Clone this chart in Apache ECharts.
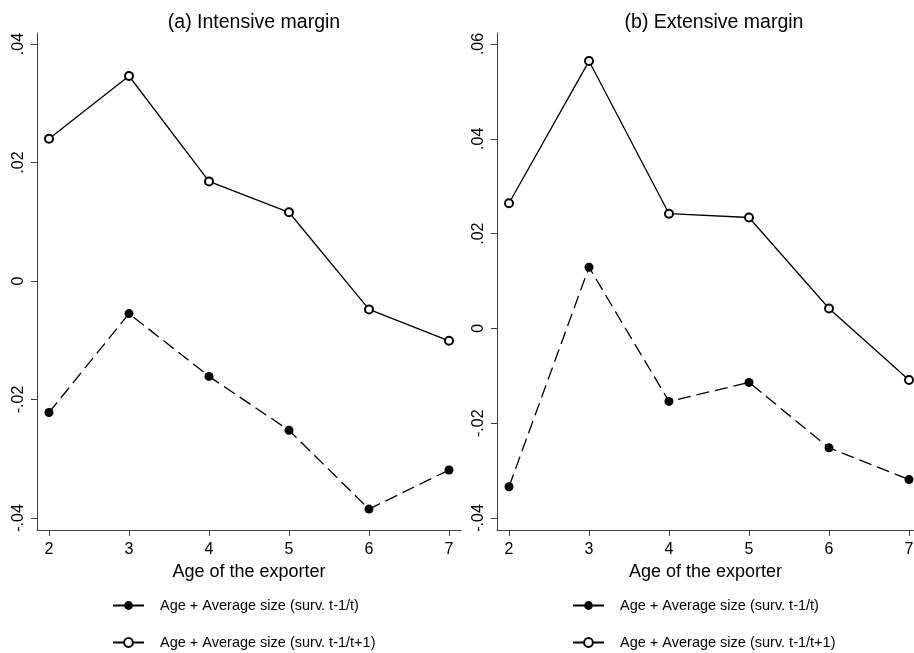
<!DOCTYPE html>
<html>
<head>
<meta charset="utf-8">
<script src="https://cdn.jsdelivr.net/npm/echarts@6/dist/echarts.min.js"></script>
<style>
html,body{margin:0;padding:0;background:#fff;}
#chart{width:914px;height:653px;}
</style>
</head>
<body>
<div id="chart"></div>
<script>
// ---- data ----
var ages = [2, 3, 4, 5, 6, 7];
var xTicks = [2, 3, 4, 5, 6, 7];
var seriesNames = ['Age + Average size (surv. t-1/t)', 'Age + Average size (surv. t-1/t+1)'];
var panelTitles = ['(a) Intensive margin', '(b) Extensive margin'];
var xTitle = 'Age of the exporter';

var intensiveT  = [-0.0222, -0.0055, -0.0161, -0.0252, -0.0385, -0.0319];
var intensiveT1 = [0.0240, 0.0346, 0.0168, 0.0116, -0.0048, -0.0101];
var extensiveT  = [-0.0334, 0.0129, -0.0154, -0.0114, -0.0252, -0.0319];
var extensiveT1 = [0.0264, 0.0564, 0.0242, 0.0234, 0.0042, -0.0109];

var yTicksA = [-0.04, -0.02, 0, 0.02, 0.04];
var yTicksB = [-0.04, -0.02, 0, 0.02, 0.04, 0.06];

function pairs(xs, ys){ return xs.map(function(x,i){ return [x, ys[i]]; }); }
function fmtY(v){
  v = Math.round(v*100)/100;
  if (v === 0) return '0';
  var s = String(Math.abs(v)).replace(/^0/, '');
  return (v < 0 ? '-' : '') + s;
}

var FONT = '"Liberation Sans", Arial, sans-serif';
var AXC = '#404040';

function xAxisDef(idx, mx){
  return {
    type: 'value', gridIndex: idx, min: 1.85, max: mx,
    name: xTitle, nameLocation: 'middle', nameGap: 28,
    nameTextStyle: {fontFamily: FONT, fontSize: 18, color: '#000'},
    axisLine: {show: true, onZero: false, lineStyle: {color: AXC, width: 1}},
    axisTick: {show: true, length: 6, inside: false, customValues: xTicks, lineStyle: {color: AXC}},
    axisLabel: {show: true, customValues: xTicks, margin: 12, fontFamily: FONT, fontSize: 16, color: '#000'},
    splitLine: {show: false}
  };
}
function yAxisDef(idx, mn, mx, ticks){
  return {
    type: 'value', gridIndex: idx, min: mn, max: mx,
    axisLine: {show: true, onZero: false, lineStyle: {color: AXC, width: 1}},
    axisTick: {show: true, length: 6, inside: false, customValues: ticks, lineStyle: {color: AXC}},
    axisLabel: {show: true, customValues: ticks, rotate: 90, margin: 10, formatter: fmtY,
                fontFamily: FONT, fontSize: 16, color: '#000'},
    splitLine: {show: false}
  };
}
function filledSeries(idx, ys){
  return {
    name: seriesNames[0], type: 'line', xAxisIndex: idx, yAxisIndex: idx,
    data: pairs(ages, ys), symbol: 'circle', symbolSize: 9,
    itemStyle: {color: '#000'},
    lineStyle: {color: '#000', width: 1.3, type: [13, 6]},
    animation: false
  };
}
function hollowSeries(idx, ys){
  return {
    name: seriesNames[1], type: 'line', xAxisIndex: idx, yAxisIndex: idx,
    data: pairs(ages, ys), symbol: 'emptyCircle', symbolSize: 8,
    itemStyle: {color: '#000', borderWidth: 1.2},
    lineStyle: {color: '#000', width: 1.3, type: 'solid'},
    animation: false
  };
}
function legendDef(left){
  return {
    orient: 'vertical', left: left, top: 598, height: 58, padding: 0,
    itemWidth: 31, itemHeight: 11, itemGap: 22,
    textStyle: {fontFamily: FONT, fontSize: 14.5, color: '#000', padding: [0, 0, 0, 11]},
    selectedMode: false,
    data: [
      {name: seriesNames[0], lineStyle: {type: 'solid'}},
      {name: seriesNames[1], lineStyle: {type: 'solid'}}
    ]
  };
}

var chart = echarts.init(document.getElementById('chart'), null, {renderer: 'canvas'});
chart.setOption({
  backgroundColor: '#fff',
  animation: false,
  title: [
    {text: panelTitles[0], left: 249, top: 8, textAlign: 'center',
     textStyle: {fontFamily: FONT, fontSize: 19.5, fontWeight: 'normal', color: '#000'}},
    {text: panelTitles[1], left: 709, top: 8, textAlign: 'center',
     textStyle: {fontFamily: FONT, fontSize: 19.5, fontWeight: 'normal', color: '#000'}}
  ],
  grid: [
    {left: 37, top: 33, width: 424, height: 497, outerBoundsMode: 'none'},
    {left: 497, top: 33, right: 0, height: 497, outerBoundsMode: 'none'}
  ],
  xAxis: [xAxisDef(0, 7.15), xAxisDef(1, 7.0625)],
  yAxis: [yAxisDef(0, -0.04203, 0.04186, yTicksA), yAxisDef(1, -0.04253, 0.06232, yTicksB)],
  legend: [legendDef(112), legendDef(572)],
  series: [
    filledSeries(0, intensiveT), hollowSeries(0, intensiveT1),
    filledSeries(1, extensiveT), hollowSeries(1, extensiveT1)
  ]
});
</script>
</body>
</html>
